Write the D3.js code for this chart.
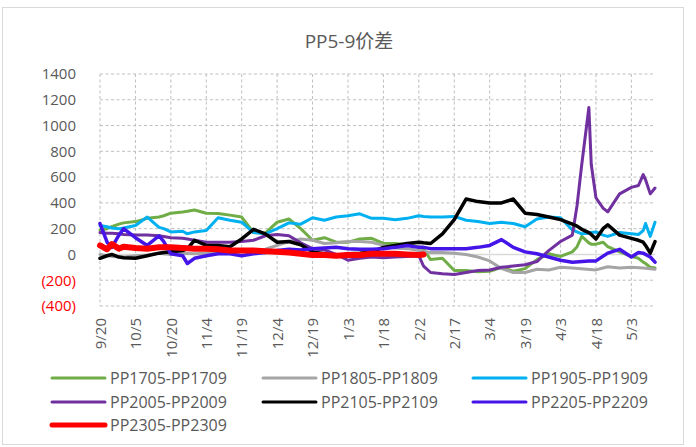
<!DOCTYPE html>
<html>
<head>
<meta charset="utf-8">
<script src="https://cdn.jsdelivr.net/npm/d3@7"></script>
<style>
  body { margin: 0; background: #fff; }
  svg { display: block; font-family: 'Open Sans', 'Noto Sans CJK SC', sans-serif; }
</style>
</head>
<body>
<div id="chart"></div>
<script>
const N = null;

// trading dates
const dates = [
  '2022-09-20', '2022-09-23', '2022-09-25', '2022-09-28', '2022-09-30', '2022-10-05', '2022-10-10', '2022-10-15', '2022-10-17', '2022-10-20',
  '2022-10-25', '2022-10-27', '2022-10-30', '2022-11-04', '2022-11-09', '2022-11-14', '2022-11-19', '2022-11-24', '2022-11-29', '2022-12-04',
  '2022-12-09', '2022-12-14', '2022-12-19', '2022-12-24', '2022-12-29', '2023-01-03', '2023-01-08', '2023-01-13', '2023-01-18', '2023-01-23',
  '2023-01-28', '2023-02-02', '2023-02-04', '2023-02-07', '2023-02-12', '2023-02-17', '2023-02-22', '2023-02-27', '2023-03-04', '2023-03-09',
  '2023-03-14', '2023-03-19', '2023-03-24', '2023-03-29', '2023-04-03', '2023-04-08', '2023-04-10', '2023-04-12', '2023-04-15', '2023-04-16',
  '2023-04-18', '2023-04-21', '2023-04-23', '2023-04-28', '2023-05-03', '2023-05-06', '2023-05-08', '2023-05-09', '2023-05-11', '2023-05-13'
];

const pp1705 = [
  190, 200, 215, 235, 245, 255, 280, 290, 300, 320,
  330, 335, 345, 320, 318, 305, 290, 170, 165, 250,
  275, 200, 110, 130, 95, 95, 120, 125, 85, 85,
  75, 60, 40, -40, -30, -125, -125, -135, -130, -100,
  -130, -110, -40, 5, -15, 20, 60, 140, 90, 80,
  80, 95, 60, 20, -15, -30, -60, -70, -100, -105
];
const pp1805 = [
  0, N, -15, N, -20, -10, -5, 10, N, 0,
  10, N, 5, 10, 15, 15, 20, 20, 40, 70,
  100, 120, 110, 85, 90, 100, 100, 95, 70, 50,
  45, 30, N, 15, 15, 10, 0, -20, -50, -110,
  -140, -140, -115, -120, -100, -105, N, N, N, N,
  -120, N, -95, -105, -100, N, -105, N, N, -115
];
const pp1905 = [
  225, 215, 205, 200, 205, 225, 290, 210, 200, 175,
  180, 160, 175, 185, 285, 265, 250, 170, 160, 200,
  245, 235, 285, 265, 290, 300, 315, 280, 280, 270,
  280, 300, 295, 290, 290, 295, 265, 255, 240, 250,
  240, 215, 275, 290, 285, 190, 175, 160, 165, 170,
  175, 150, 140, 170, 160, 155, 185, 240, 140, 250
];
const pp2005 = [
  170, 165, 165, 160, 155, 150, 150, 145, 140, 130,
  125, 120, 110, 95, 95, 95, 100, 110, 145, 155,
  145, 90, 45, 35, 0, -45, -30, -20, -25, -20,
  -15, -10, -90, -140, -150, -155, -140, -125, -120, -100,
  -90, -80, -55, 30, 100, 150, 380, 700, 1140, 700,
  440, 360, 330, 470, 520, 535, 620, 580, 470, 515
];
const pp2105 = [
  -30, -10, 0, -20, -25, -30, -10, 10, 15, 20,
  30, 45, 110, 70, 70, 60, 120, 195, 160, 95,
  100, 75, 20, 5, -15, 5, 10, 20, 55, 70,
  85, 95, 90, 85, 160, 270, 430, 410, 400, 400,
  430, 320, 310, 290, 270, 235, 220, 195, 170, 155,
  120, 200, 230, 150, 125, 110, 95, 70, 10, 100
];
const pp2205 = [
  240, 95, 55, 150, 200, 130, 70, 145, 100, 5,
  -10, -70, -30, -10, 5, 5, -10, 5, 15, 30,
  40, 35, 45, 50, 55, 45, 40, 40, 45, 55,
  70, 55, 55, 45, 45, 45, 45, 55, 70, 115,
  55, 20, 5, -20, -45, -60, N, N, -50, N,
  -50, N, 10, 40, -20, 15, 10, N, -20, -60
];
const pp2305 = [
  70, 40, 80, 45, 60, 50, 45, 55, 55, 55,
  50, 48, 45, 45, 40, 30, 30, 30, 25, 20,
  15, 5, -5, -5, -10, -5, -5, 5, 5, 5,
  0, -5, 0
];

const seriesNames = ['PP1705-PP1709', 'PP1805-PP1809', 'PP1905-PP1909', 'PP2005-PP2009', 'PP2105-PP2109', 'PP2205-PP2209', 'PP2305-PP2309'];
const seriesValues = [pp1705, pp1805, pp1905, pp2005, pp2105, pp2205, pp2305];
const seriesColors = ['#70AD47', '#A5A5A5', '#00B0F0', '#7030A0', '#000000', '#4514E8', '#FF0000'];
const seriesWidths = [3, 3, 3, 3, 3.5, 3.5, 6];

const yTicks = [-400, -200, 0, 200, 400, 600, 800, 1000, 1200, 1400];
const xTickDates = [
  '2022-09-20', '2022-10-05', '2022-10-20', '2022-11-04', '2022-11-19', '2022-12-04', '2022-12-19', '2023-01-03', '2023-01-18',
  '2023-02-02', '2023-02-17', '2023-03-04', '2023-03-19', '2023-04-03', '2023-04-18', '2023-05-03'
];
const xDomain = ['2022-09-20', '2023-05-13'];
const title = 'PP5-9价差';

const width = 696, height = 447;
const plot = { left: 100, right: 655, top: 74, bottom: 306 };
const parse = d3.timeParse('%Y-%m-%d');
const textColor = '#595959';

const svg = d3.select('#chart').append('svg')
  .attr('width', width)
  .attr('height', height);

// chart border
svg.append('rect')
  .attr('x', 2.5).attr('y', 7.5)
  .attr('width', 681).attr('height', 437)
  .attr('fill', '#fff')
  .attr('stroke', '#d9d9d9');

svg.append('text')
  .attr('x', 349).attr('y', 48)
  .attr('text-anchor', 'middle')
  .style('font-size', '19px')
  .style('fill', textColor)
  .text(title);

const x = d3.scaleTime()
  .domain(xDomain.map(parse))
  .range([plot.left, plot.right]);
const y = d3.scaleLinear()
  .domain([-400, 1400])
  .range([plot.bottom, plot.top]);

// gridlines
const grid = svg.append('g');
grid.selectAll('.hgrid')
  .data(yTicks.filter(v => v !== 0))
  .enter().append('line')
  .attr('x1', plot.left).attr('x2', plot.right)
  .attr('y1', d => y(d)).attr('y2', d => y(d))
  .attr('stroke', '#bfbfbf')
  .attr('stroke-dasharray', '3,2.5');
grid.selectAll('.vgrid')
  .data(xTickDates)
  .enter().append('line')
  .attr('x1', d => x(parse(d))).attr('x2', d => x(parse(d)))
  .attr('y1', plot.top).attr('y2', plot.bottom)
  .attr('stroke', '#bfbfbf')
  .attr('stroke-dasharray', '3,2.5');
grid.append('line')
  .attr('x1', plot.left).attr('x2', plot.right)
  .attr('y1', y(0)).attr('y2', y(0))
  .attr('stroke', '#d9d9d9')
  .attr('stroke-width', 1.5);

// y axis labels
const yAxis = svg.append('g')
  .attr('transform', `translate(${plot.left - 10},0)`)
  .call(d3.axisLeft(y).tickValues(yTicks).tickSize(0)
    .tickFormat(d => d < 0 ? `(${-d})` : d));
yAxis.select('.domain').remove();
yAxis.selectAll('text')
  .attr('x', -14)
  .style('font-family', "'Open Sans', sans-serif")
  .style('font-size', '15px')
  .style('fill', d => d < 0 ? '#FF0000' : textColor);

// x axis labels, rotated
const xAxis = svg.append('g')
  .attr('transform', `translate(0,${plot.bottom})`)
  .call(d3.axisBottom(x).tickValues(xTickDates.map(parse)).tickSize(0)
    .tickFormat(d3.timeFormat('%-m/%-d')));
xAxis.select('.domain').remove();
xAxis.selectAll('text')
  .attr('transform', 'rotate(-90)')
  .attr('x', -12)
  .attr('y', 0)
  .attr('dy', '0.35em')
  .style('text-anchor', 'end')
  .style('font-family', "'Open Sans', sans-serif")
  .style('font-size', '15px')
  .style('fill', textColor);

// series
const line = d3.line()
  .x(d => x(d.date))
  .y(d => y(d.value));

seriesValues.forEach((vals, i) => {
  const pts = vals.map((v, j) => ({ date: parse(dates[j]), value: v }))
    .filter(d => d.value != null);
  svg.append('path')
    .datum(pts)
    .attr('fill', 'none')
    .attr('stroke', seriesColors[i])
    .attr('stroke-width', seriesWidths[i])
    .attr('stroke-linejoin', 'round')
    .attr('stroke-linecap', 'round')
    .attr('d', line);
});

// legend
const legendCols = [52, 263, 473];
const legendRows = [378, 402, 425];
const legend = svg.append('g');
seriesNames.forEach((name, i) => {
  const lx = legendCols[i % 3];
  const ly = legendRows[Math.floor(i / 3)];
  legend.append('line')
    .attr('x1', lx).attr('x2', lx + 53)
    .attr('y1', ly).attr('y2', ly)
    .attr('stroke', seriesColors[i])
    .attr('stroke-width', i === 6 ? 5 : 3)
    .attr('stroke-linecap', 'round');
  legend.append('text')
    .attr('x', lx + 58).attr('y', ly)
    .attr('dy', '0.35em')
    .style('font-size', '16px')
    .style('fill', textColor)
    .text(name);
});
</script>
</body>
</html>
